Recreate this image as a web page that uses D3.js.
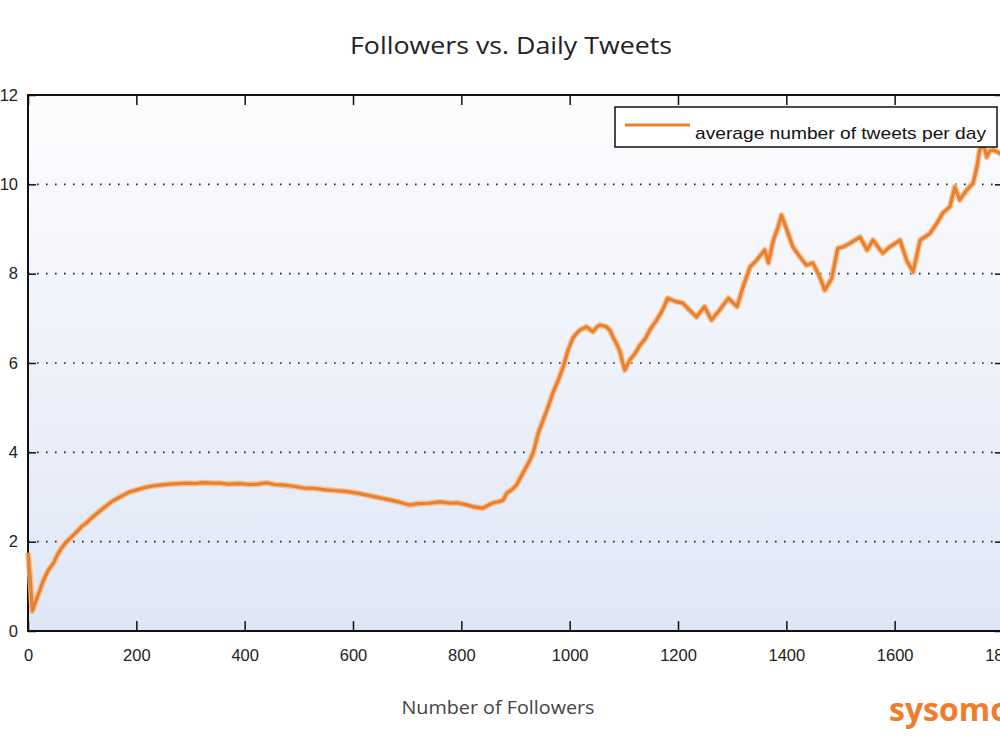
<!DOCTYPE html>
<html>
<head>
<meta charset="utf-8">
<script src="https://cdn.jsdelivr.net/npm/d3@7"></script>
<style>
  body { margin: 0; background: #fff; }
  .tick text { font-family: "Liberation Sans", Arial, sans-serif; font-size: 16.5px; fill: #222; }
</style>
</head>
<body>
<div id="chart"></div>
<script>
// number of followers (x) and average tweets per day (y)
var followers = [0, 4, 8, 13, 20, 28, 37, 47, 55, 62, 70, 78, 90, 100, 108, 120, 130, 139, 155, 170,
  185, 201, 215, 231, 246, 262, 280, 293, 310, 323, 340, 354, 370, 390, 410, 425, 440, 455, 470, 490,
  510, 530, 550, 570, 590, 610, 630, 650, 670, 690, 705, 720, 740, 761, 780, 792, 808, 822, 840, 850,
  859, 870, 877, 884, 893, 902, 914, 921, 927, 933, 942, 951, 960, 969, 979, 988, 997, 1006, 1012, 1019,
  1031, 1043, 1050, 1056, 1068, 1075, 1080, 1087, 1093, 1098, 1102, 1106, 1111, 1120, 1130, 1140, 1148, 1160, 1170, 1181,
  1195, 1209, 1220, 1234, 1249, 1262, 1277, 1293, 1309, 1320, 1333, 1345, 1360, 1367, 1376, 1385, 1391, 1401, 1412, 1425,
  1437, 1449, 1462, 1471, 1484, 1495, 1505, 1517, 1536, 1549, 1560, 1578, 1591, 1610, 1622, 1634, 1647, 1665, 1678, 1689,
  1702, 1711, 1720, 1733, 1745, 1752, 1757, 1764, 1770, 1776, 1782, 1794, 1800];

var tweetsPerDay = [1.75, 1.2, 0.45, 0.62, 0.85, 1.12, 1.35, 1.52, 1.72, 1.86, 1.98, 2.08, 2.22, 2.35, 2.42, 2.56, 2.66, 2.75, 2.9, 3.0,
  3.1, 3.16, 3.21, 3.25, 3.27, 3.29, 3.3, 3.31, 3.3, 3.32, 3.31, 3.31, 3.29, 3.3, 3.28, 3.29, 3.32, 3.28, 3.27, 3.24,
  3.2, 3.19, 3.16, 3.14, 3.12, 3.08, 3.03, 2.98, 2.93, 2.87, 2.82, 2.85, 2.86, 2.89, 2.86, 2.87, 2.83, 2.78, 2.75, 2.82,
  2.87, 2.9, 2.93, 3.09, 3.16, 3.27, 3.54, 3.7, 3.83, 4.01, 4.43, 4.72, 5.01, 5.33, 5.62, 5.91, 6.29, 6.56, 6.65, 6.74,
  6.81, 6.7, 6.8, 6.85, 6.81, 6.72, 6.58, 6.42, 6.25, 6.0, 5.84, 5.95, 6.07, 6.2, 6.4, 6.55, 6.74, 6.95, 7.15, 7.45,
  7.38, 7.34, 7.2, 7.03, 7.26, 6.96, 7.19, 7.45, 7.26, 7.7, 8.15, 8.3, 8.53, 8.24, 8.75, 9.05, 9.31, 8.98, 8.6, 8.38,
  8.19, 8.24, 7.92, 7.63, 7.9, 8.57, 8.6, 8.68, 8.82, 8.53, 8.75, 8.46, 8.6, 8.75, 8.3, 8.04, 8.75, 8.9, 9.13, 9.36,
  9.5, 9.94, 9.65, 9.87, 10.03, 10.4, 10.77, 10.9, 10.61, 10.75, 10.77, 10.7, 10.65];

var xTicks = [0, 200, 400, 600, 800, 1000, 1200, 1400, 1600, 1800];
var yTicks = [0, 2, 4, 6, 8, 10, 12];
var gridValues = [2, 4, 6, 8, 10];

var svgWidth = 1000;
var svgHeight = 750;

var plot = { left: 28, right: 1003, top: 95, bottom: 631 };
var lineColor = "#e9802b";

var data = followers.map(function(f, i) { return { x: f, y: tweetsPerDay[i] }; });

var svg = d3.select("#chart")
  .append("svg")
  .attr("width", svgWidth)
  .attr("height", svgHeight);

svg.append("rect")
  .attr("width", svgWidth)
  .attr("height", svgHeight)
  .attr("fill", "#fff");

// background gradient of the plot area
var defs = svg.append("defs");
var grad = defs.append("linearGradient")
  .attr("id", "bg")
  .attr("x1", 0).attr("y1", 0)
  .attr("x2", 0).attr("y2", 1);
grad.append("stop").attr("offset", "0%").attr("stop-color", "#fdfdfe");
grad.append("stop").attr("offset", "100%").attr("stop-color", "#dfe6f6");

var xScale = d3.scaleLinear().domain([0, 1800]).range([plot.left, plot.right]);
var yScale = d3.scaleLinear().domain([0, 12]).range([plot.bottom, plot.top]);

svg.append("rect")
  .attr("x", plot.left)
  .attr("y", plot.top)
  .attr("width", plot.right - plot.left)
  .attr("height", plot.bottom - plot.top)
  .attr("fill", "url(#bg)");

// dotted grid lines
svg.append("g")
  .selectAll("line")
  .data(gridValues)
  .enter()
  .append("line")
  .attr("x1", plot.left)
  .attr("x2", plot.right)
  .attr("y1", d => yScale(d))
  .attr("y2", d => yScale(d))
  .attr("stroke", "#222")
  .attr("stroke-width", 1.6)
  .attr("stroke-dasharray", "1.6,7.4");

// axes with inward ticks
var fmt = d3.format("d");
var bottomAxis = d3.axisBottom(xScale).tickValues(xTicks).tickFormat(fmt).tickSize(-10).tickSizeOuter(0).tickPadding(18);
var topAxis = d3.axisTop(xScale).tickValues(xTicks).tickSize(-10).tickSizeOuter(0).tickFormat("");
var leftAxis = d3.axisLeft(yScale).tickValues(yTicks).tickFormat(fmt).tickSize(-8).tickSizeOuter(0).tickPadding(10);
var rightAxis = d3.axisRight(yScale).tickValues(yTicks).tickSize(-8).tickSizeOuter(0).tickFormat("");

function styleAxis(g) {
  g.select(".domain").remove();
  g.selectAll(".tick line").attr("stroke", "#111").attr("stroke-width", 1.5);
}

svg.append("g").attr("transform", `translate(0, ${plot.bottom})`).call(bottomAxis).call(styleAxis);
svg.append("g").attr("transform", `translate(0, ${plot.top})`).call(topAxis).call(styleAxis);
svg.append("g").attr("transform", `translate(${plot.left}, 0)`).call(leftAxis).call(styleAxis);
svg.append("g").attr("transform", `translate(${plot.right}, 0)`).call(rightAxis).call(styleAxis);

// frame
svg.append("rect")
  .attr("x", plot.left)
  .attr("y", plot.top)
  .attr("width", plot.right - plot.left)
  .attr("height", plot.bottom - plot.top)
  .attr("fill", "none")
  .attr("stroke", "#111")
  .attr("stroke-width", 2);

// the data line, with a soft halo like the jpeg original
var line = d3.line()
  .x(d => xScale(d.x))
  .y(d => yScale(d.y));

svg.append("path")
  .datum(data)
  .attr("d", line)
  .attr("fill", "none")
  .attr("stroke", "#f6b57f")
  .attr("stroke-width", 6)
  .attr("stroke-linejoin", "round")
  .attr("opacity", 0.8);

svg.append("path")
  .datum(data)
  .attr("d", line)
  .attr("fill", "none")
  .attr("stroke", lineColor)
  .attr("stroke-width", 3.2)
  .attr("stroke-linejoin", "round");

// legend
var legend = svg.append("g");
legend.append("rect")
  .attr("x", 615)
  .attr("y", 107)
  .attr("width", 382)
  .attr("height", 40)
  .attr("fill", "#fff")
  .attr("stroke", "#111")
  .attr("stroke-width", 1.5);
legend.append("line")
  .attr("x1", 625).attr("x2", 690)
  .attr("y1", 125).attr("y2", 125)
  .attr("stroke", lineColor)
  .attr("stroke-width", 3);
legend.append("text")
  .attr("x", 695)
  .attr("y", 139)
  .attr("textLength", 291)
  .attr("lengthAdjust", "spacingAndGlyphs")
  .style("font-family", "'Liberation Sans', Arial, sans-serif")
  .style("font-size", "17px")
  .style("fill", "#111")
  .text("average number of tweets per day");

// title and axis label
svg.append("text")
  .attr("x", 511)
  .attr("y", 54)
  .attr("text-anchor", "middle")
  .attr("textLength", 322)
  .attr("lengthAdjust", "spacingAndGlyphs")
  .style("font-family", "'Open Sans', sans-serif")
  .style("font-size", "23px")
  .style("fill", "#222")
  .text("Followers vs. Daily Tweets");

svg.append("text")
  .attr("x", 498)
  .attr("y", 714)
  .attr("text-anchor", "middle")
  .attr("textLength", 193)
  .attr("lengthAdjust", "spacingAndGlyphs")
  .style("font-family", "'Open Sans', sans-serif")
  .style("font-size", "18px")
  .style("fill", "#444")
  .text("Number of Followers");

// sysomos logo text, cut by the right edge as in the original
svg.append("text")
  .attr("x", 889)
  .attr("y", 721)
  .style("font-family", "'Open Sans', sans-serif")
  .style("font-size", "32px")
  .style("font-weight", "bold")
  .style("fill", "#ef7d2c")
  .text("sysomos");
</script>
</body>
</html>
